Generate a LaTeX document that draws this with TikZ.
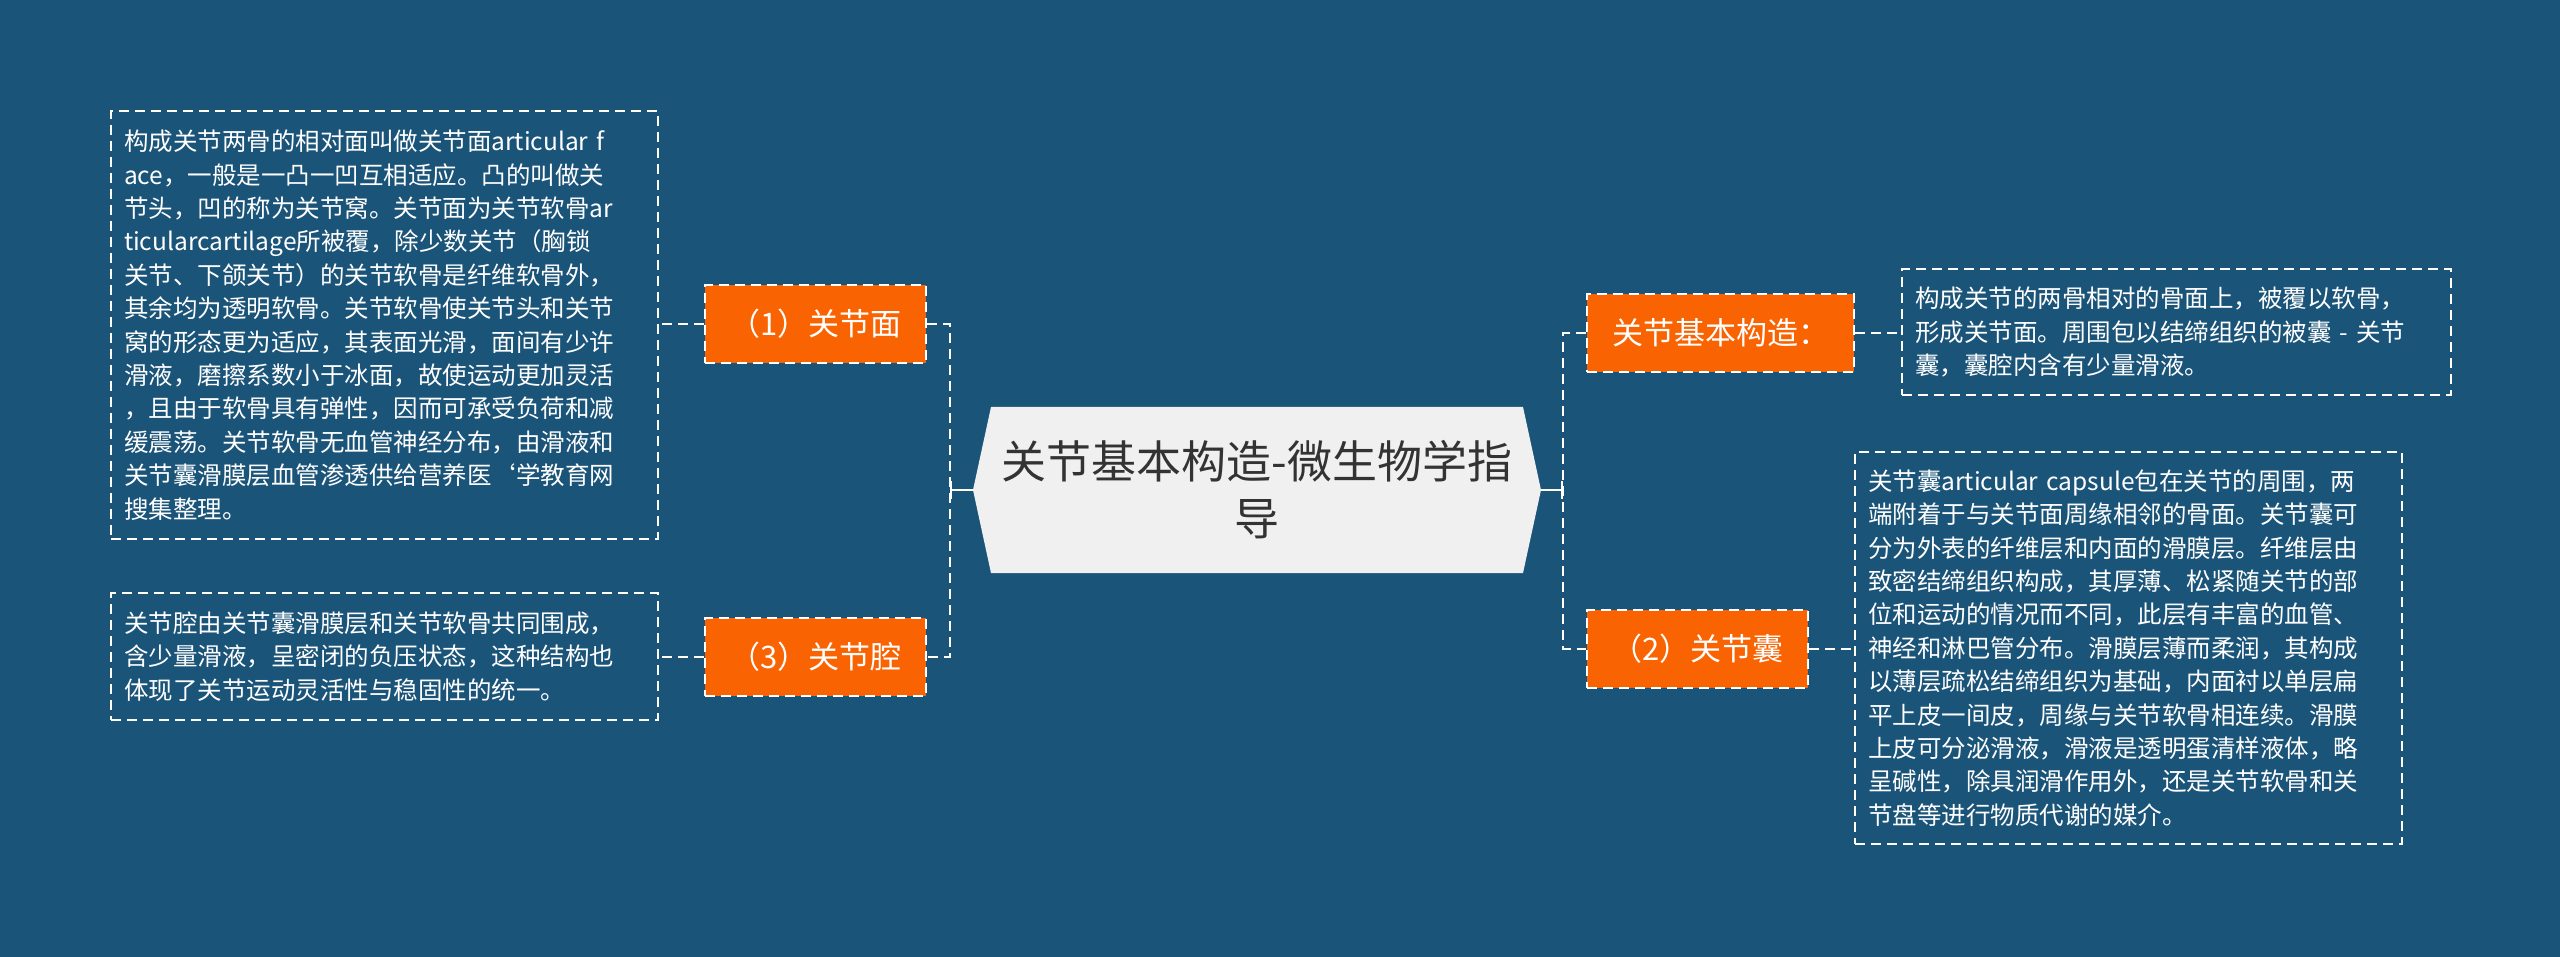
\documentclass[tikz,border=0pt]{standalone}
\usepackage{fontspec}
\setmainfont{Noto Sans CJK SC}
\usetikzlibrary{arrows.meta}
\definecolor{bg}{RGB}{27,84,121}
\definecolor{org}{RGB}{249,99,2}
\definecolor{rootfill}{RGB}{240,240,240}
\definecolor{roottext}{RGB}{51,51,51}
\begin{document}
\begin{tikzpicture}[x=1pt,y=-1pt,
  dashline/.style={draw=white,line width=2pt,dash pattern=on 10pt off 6pt},
  conn/.style={dashline},
  detail/.style={dashline,text=white,align=left,font=\fontsize{24.5}{33.4}\selectfont,inner xsep=13pt,inner ysep=0pt},
  topic/.style={dashline,fill=org,text=white,font=\fontsize{31}{36}\selectfont,inner sep=0pt,minimum height=78pt},
  rootnode/.style={font=\fontsize{45}{57}\selectfont,text=roottext,align=center,minimum width=568pt,minimum height=166pt,inner sep=0pt},
  spinetip/.style={draw=white,line width=2pt,-{Bar[width=18pt]}}
]
\useasboundingbox (0,0) rectangle (2560,957);
\fill[bg] (0,0) rectangle (2560,957);

% central node
\fill[rootfill] (973,490) -- (991,407) -- (1523,407) -- (1541,490) -- (1523,573) -- (991,573) -- cycle;
\node[rootnode] (root) at (1257,490) {关节基本构造-微生物学指\\导};

% left topics
\node[topic,minimum width=221pt] (f1) at (815.5,324) {（1）关节面};
\node[topic,minimum width=221pt] (f3) at (815.5,657) {（3）关节腔};

% right topics
\node[topic,minimum width=267pt] (r1) at (1720.5,333) {关节基本构造：};
\node[topic,minimum width=221pt] (r2) at (1697.5,648.5) {（2）关节囊};

% detail boxes
\node[detail,text width=521pt,minimum height=428pt] (ld1) at (384.5,325) {构成关节两骨的相对面叫做关节面articular f\\ace，一般是一凸一凹互相适应。凸的叫做关\\节头，凹的称为关节窝。关节面为关节软骨ar\\ticularcartilage所被覆，除少数关节（胸锁\\关节、下颌关节）的关节软骨是纤维软骨外，\\其余均为透明软骨。关节软骨使关节头和关节\\窝的形态更为适应，其表面光滑，面间有少许\\滑液，磨擦系数小于冰面，故使运动更加灵活\\，且由于软骨具有弹性，因而可承受负荷和减\\缓震荡。关节软骨无血管神经分布，由滑液和\\关节囊滑膜层血管渗透供给营养医\symbol{"60}学教育网\\搜集整理。};
\node[detail,text width=521pt,minimum height=127pt] (ld3) at (384.5,656.5) {关节腔由关节囊滑膜层和关节软骨共同围成，\\含少量滑液，呈密闭的负压状态，这种结构也\\体现了关节运动灵活性与稳固性的统一。};
\node[detail,text width=523pt,minimum height=126pt] (rd1) at (2176.5,332) {构成关节的两骨相对的骨面上，被覆以软骨，\\形成关节面。周围包以结缔组织的被囊 - 关节\\囊，囊腔内含有少量滑液。};
\node[detail,text width=521pt,minimum height=392pt] (rd2) at (2128.5,648) {关节囊articular capsule包在关节的周围，两\\端附着于与关节面周缘相邻的骨面。关节囊可\\分为外表的纤维层和内面的滑膜层。纤维层由\\致密结缔组织构成，其厚薄、松紧随关节的部\\位和运动的情况而不同，此层有丰富的血管、\\神经和淋巴管分布。滑膜层薄而柔润，其构成\\以薄层疏松结缔组织为基础，内面衬以单层扁\\平上皮一间皮，周缘与关节软骨相连续。滑膜\\上皮可分泌滑液，滑液是透明蛋清样液体，略\\呈碱性，除具润滑作用外，还是关节软骨和关\\节盘等进行物质代谢的媒介。};

% spines
\coordinate (lsp) at (950,490);
\coordinate (rsp) at (1563,490);
\draw[spinetip] (root.west) -- (lsp);
\draw[spinetip] (root.east) -- (rsp);
\draw[conn] (f1.east) -| (lsp) |- (f3.east);
\draw[conn] (r1.west) -| (rsp) |- (r2.west);

% detail connectors
\draw[conn] (f1.west) -- (f1.west -| ld1.east);
\draw[conn] (f3.west) -- (f3.west -| ld3.east);
\draw[conn] (r1.east) -- (r1.east -| rd1.west);
\draw[conn] (r2.east) -- (r2.east -| rd2.west);
\end{tikzpicture}
\end{document}
